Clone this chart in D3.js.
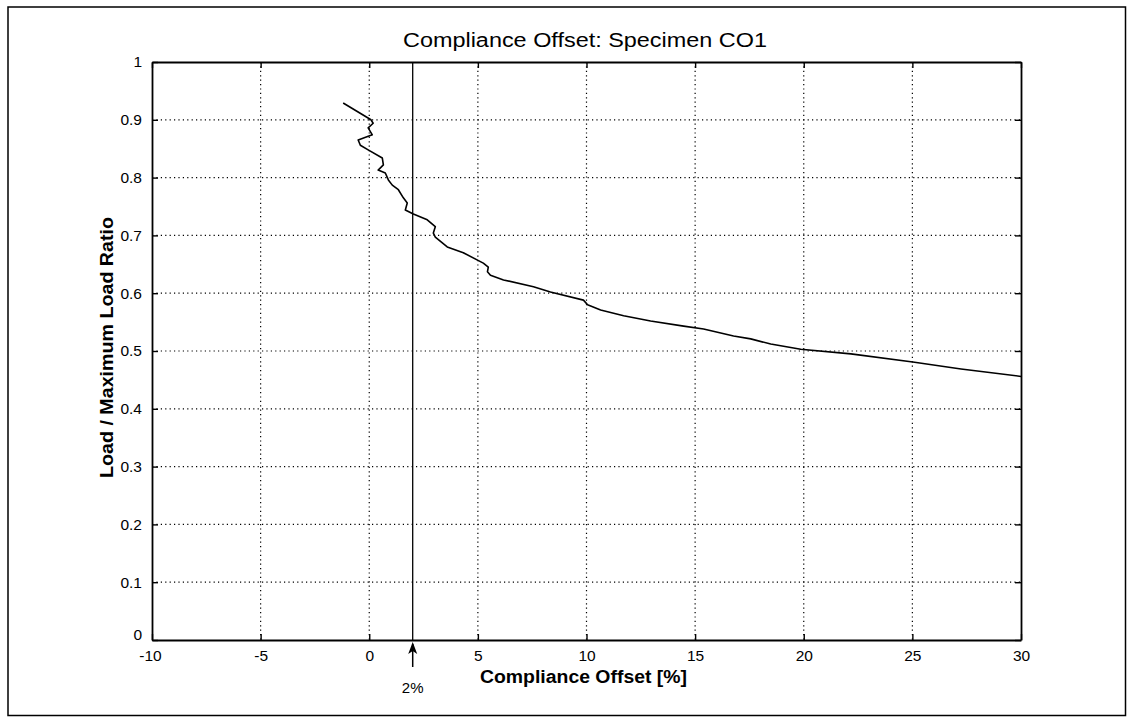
<!DOCTYPE html>
<html>
<head>
<meta charset="utf-8">
<script src="https://cdn.jsdelivr.net/npm/d3@7"></script>
<style>
  html, body { margin: 0; padding: 0; background: #fff; }
  svg text { font-family: "Liberation Sans", Arial, sans-serif; fill: #000; }
</style>
</head>
<body>
<svg id="chart" width="1127" height="717"></svg>
<script>
// Compliance offset (%) vs. load / maximum load ratio for specimen CO1
const offsetPct = [
  -1.20, 0.08, 0.18, -0.05, 0.14, -0.51, -0.41, -0.05, 0.60, 0.65, 0.41, 0.74,
  0.88, 1.06, 1.34, 1.57, 1.75, 1.66, 2.03, 2.67, 3.04, 2.95, 3.04, 3.59, 4.33,
  5.25, 5.48, 5.44, 5.58, 6.18, 7.56, 8.34, 9.86, 10.05, 10.65, 11.71, 12.95,
  14.47, 15.39, 16.77, 17.56, 18.48, 19.86, 22.17, 25.02, 27.24, 30.0
];
const loadRatio = [
  0.929, 0.900, 0.894, 0.886, 0.874, 0.865, 0.856, 0.848, 0.834, 0.822, 0.813, 0.808,
  0.796, 0.787, 0.779, 0.765, 0.756, 0.744, 0.737, 0.727, 0.715, 0.704, 0.697, 0.680, 0.670,
  0.652, 0.645, 0.637, 0.631, 0.623, 0.611, 0.602, 0.588, 0.580, 0.571, 0.561, 0.552,
  0.543, 0.538, 0.526, 0.521, 0.512, 0.503, 0.495, 0.481, 0.469, 0.456
];
const xTicks = [-10, -5, 0, 5, 10, 15, 20, 25, 30];
const yTicks = [0, 0.1, 0.2, 0.3, 0.4, 0.5, 0.6, 0.7, 0.8, 0.9, 1];
const markerOffset = 2;   // 2% compliance offset criterion

const svg = d3.select("#chart");
const margin = { left: 152, top: 62, right: 1021, bottom: 640 };

const x = d3.scaleLinear().domain([-10, 30]).range([margin.left, margin.right]);
const y = d3.scaleLinear().domain([0, 1]).range([margin.bottom, margin.top]);

// outer figure frame
svg.append("rect")
  .attr("x", 8).attr("y", 7).attr("width", 1117.5).attr("height", 708.5)
  .attr("fill", "none").attr("stroke", "#000").attr("stroke-width", 1.5);

// dotted grid
const grid = svg.append("g").attr("stroke", "#000").attr("stroke-width", 1.2)
  .attr("stroke-dasharray", "1.2,3.2");
grid.selectAll("line.gx").data(xTicks.slice(1, -1)).join("line")
  .attr("x1", d => x(d)).attr("x2", d => x(d))
  .attr("y1", y(1)).attr("y2", y(0));
grid.selectAll("line.gy").data(yTicks.slice(1, -1)).join("line")
  .attr("x1", x(-10)).attr("x2", x(30))
  .attr("y1", d => y(d)).attr("y2", d => y(d));

// axes with inward ticks on all four sides
const fmtX = d => String(d);
const fmtY = d => d === 0 ? "0" : d === 1 ? "1" : d3.format(".1f")(d);
const axB = svg.append("g").attr("transform", `translate(0,${y(0)})`)
  .call(d3.axisBottom(x).tickValues(xTicks).tickSizeInner(-6).tickSizeOuter(0).tickPadding(10).tickFormat(fmtX));
const axT = svg.append("g").attr("transform", `translate(0,${y(1)})`)
  .call(d3.axisTop(x).tickValues(xTicks).tickSizeInner(-6).tickSizeOuter(0).tickFormat(""));
const axL = svg.append("g").attr("transform", `translate(${x(-10)},0)`)
  .call(d3.axisLeft(y).tickValues(yTicks).tickSizeInner(-6).tickSizeOuter(0).tickPadding(10).tickFormat(fmtY));
const axR = svg.append("g").attr("transform", `translate(${x(30)},0)`)
  .call(d3.axisRight(y).tickValues(yTicks).tickSizeInner(-6).tickSizeOuter(0).tickFormat(""));

[axB, axT, axL, axR].forEach(g => {
  g.select(".domain").attr("stroke", "#000").attr("stroke-width", 1.8);
  g.selectAll(".tick line").attr("stroke", "#000").attr("stroke-width", 1.4);
  g.selectAll("text").attr("font-family", "Liberation Sans, Arial, sans-serif")
    .attr("font-size", 15.5).attr("fill", "#000");
});
axB.selectAll(".tick text").attr("dy", "0.72em");
// the origin tick labels sit close together in the corner
axL.selectAll(".tick text").filter(d => d === 0).attr("dy", "-0.05em");
axB.selectAll(".tick text").filter(d => d === -10).attr("dx", "-2");

// 2% reference line
svg.append("line")
  .attr("x1", x(markerOffset)).attr("x2", x(markerOffset))
  .attr("y1", y(1)).attr("y2", y(0))
  .attr("stroke", "#000").attr("stroke-width", 1.3);

// response curve
const pts = offsetPct.map((v, i) => [v, loadRatio[i]]);
svg.append("path")
  .datum(pts)
  .attr("fill", "none").attr("stroke", "#000").attr("stroke-width", 1.6)
  .attr("stroke-linejoin", "round")
  .attr("d", d3.line().x(d => x(d[0])).y(d => y(d[1])));

// arrow marking the 2% offset below the axis
const ax2 = x(markerOffset);
svg.append("line")
  .attr("x1", ax2).attr("x2", ax2).attr("y1", y(0) + 4).attr("y2", y(0) + 27)
  .attr("stroke", "#000").attr("stroke-width", 1.5);
svg.append("path")
  .attr("d", `M${ax2},${y(0) + 2} L${ax2 - 4.5},${y(0) + 14} L${ax2},${y(0) + 11} L${ax2 + 4.5},${y(0) + 14} Z`)
  .attr("fill", "#000");
svg.append("text")
  .attr("x", ax2).attr("y", y(0) + 53)
  .attr("text-anchor", "middle").attr("font-size", 15)
  .text("2%");

// titles
svg.append("text")
  .attr("x", 585).attr("y", 47)
  .attr("text-anchor", "middle").attr("font-size", 20)
  .attr("textLength", 364).attr("lengthAdjust", "spacingAndGlyphs")
  .text("Compliance Offset: Specimen CO1");
svg.append("text")
  .attr("x", 583.5).attr("y", 683)
  .attr("text-anchor", "middle").attr("font-size", 18).attr("font-weight", "bold")
  .attr("textLength", 207).attr("lengthAdjust", "spacingAndGlyphs")
  .text("Compliance Offset [%]");
svg.append("text")
  .attr("transform", `translate(113,347.5) rotate(-90)`)
  .attr("text-anchor", "middle").attr("font-size", 18).attr("font-weight", "bold")
  .attr("textLength", 261).attr("lengthAdjust", "spacingAndGlyphs")
  .text("Load / Maximum Load Ratio");
</script>
</body>
</html>
